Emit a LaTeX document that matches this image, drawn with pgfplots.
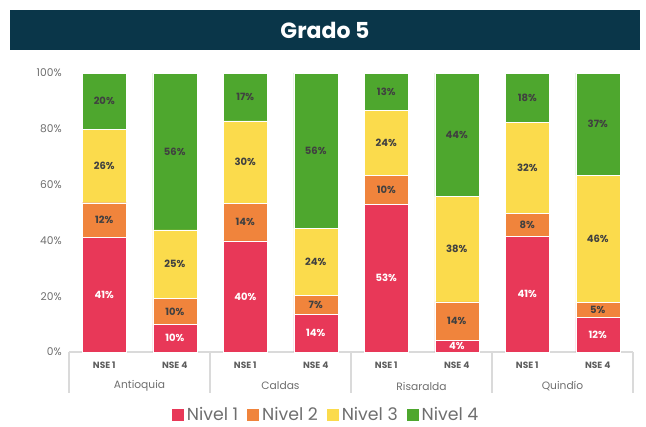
\documentclass[border=0pt]{standalone}
\usepackage{fontspec}
\setmainfont{Poppins}
\usepackage{pgfplots}
\usepackage{pgfplotstable}
\pgfplotsset{compat=1.18}
\definecolor{titlebg}{HTML}{0A3649}
\definecolor{n1}{HTML}{E83858}
\definecolor{n2}{HTML}{F0843C}
\definecolor{n3}{HTML}{FBDB4C}
\definecolor{n4}{HTML}{4EA72E}
\definecolor{ticktxt}{HTML}{6E6E6E}
\definecolor{darktxt}{HTML}{404040}
\definecolor{sepline}{HTML}{DADADA}

% segment heights (percent) per bar
\pgfplotstableread{
x  n1    n2    n3    n4
0  41.2  12.3  26.4  20.1
1  9.9   9.3   24.6  56.2
2  39.8  13.5  29.5  17.2
3  13.6  6.8   23.9  55.7
4  52.9  10.3  23.5  13.3
5  4.3   13.7  37.7  44.3
6  41.5  8.3   32.4  17.8
7  12.4  5.3   45.7  36.6
}\datatable

% label positions (segment middles) and label text
\pgfplotstableread{
x  y      lab
0  20.6   41
1  4.95   10
2  19.9   40
3  6.8    14
4  26.45  53
5  2.15   4
6  20.75  41
7  6.2    12
}\labone
\pgfplotstableread{
x  y      lab
0  47.35  12
0  66.7   26
0  89.95  20
1  14.55  10
1  31.5   25
1  71.9   56
2  46.55  14
2  68.05  30
2  91.4   17
3  17.0   7
3  32.35  24
3  72.15  56
4  58.05  10
4  74.95  24
4  93.35  13
5  11.15  14
5  36.85  38
5  77.85  44
6  45.65  8
6  66.0   32
6  91.1   18
7  15.05  5
7  40.55  46
7  81.7   37
}\labrest

\begin{document}
\begin{tikzpicture}[x=1pt,y=1pt]
\path[use as bounding box] (0,0) rectangle (484.5,319.5);
% title bar
\fill[titlebg] (7.5,282) rectangle (480,312);
\node[text=white,font=\fontsize{16.5}{18}\selectfont\bfseries] at (243.75,297) {Grado 5};

\begin{axis}[
  at={(51.75pt,55.5pt)}, anchor=south west,
  scale only axis, width=423pt, height=209.25pt,
  ybar stacked, bar width=33pt,
  xmin=-0.5, xmax=7.5, ymin=0, ymax=100,
  xtick={0,...,7},
  xticklabels={NSE 1,NSE 4,NSE 1,NSE 4,NSE 1,NSE 4,NSE 1,NSE 4},
  ytick={0,20,...,100},
  yticklabel={\pgfmathprintnumber{\tick}\%},
  /pgf/number format/assume math mode=true,
  axis x line*=bottom, axis y line*=left,
  x axis line style={draw=sepline, line width=0.8pt},
  y axis line style={draw=none},
  major tick length=0pt,
  x tick label style={font=\fontsize{6.8}{8}\selectfont\bfseries, text=darktxt!85, yshift=-4pt},
  y tick label style={font=\fontsize{8}{10}\selectfont, text=ticktxt, xshift=-2pt},
  clip=false,
  legend columns=4,
  legend style={at={(0.4557,-0.2258)}, anchor=center, draw=none, fill=none,
    font=\fontsize{13}{15}\selectfont, text=ticktxt,
    /tikz/every even column/.append style={column sep=4pt}},
  legend image code/.code={\fill[#1] (0pt,-4.8pt) rectangle (9.6pt,4.8pt);},
]
\addplot[fill=n1, draw=white, line width=0.3pt] table[x=x,y=n1] {\datatable};
\addplot[fill=n2, draw=white, line width=0.3pt] table[x=x,y=n2] {\datatable};
\addplot[fill=n3, draw=white, line width=0.3pt] table[x=x,y=n3] {\datatable};
\addplot[fill=n4, draw=white, line width=0.3pt] table[x=x,y=n4] {\datatable};
\legend{Nivel 1,Nivel 2,Nivel 3,Nivel 4}
\pgfplotsinvokeforeach{-0.5,1.5,3.5,5.5,7.5}{
  \draw[sepline, line width=0.8pt] (axis cs:#1,0) -- ([yshift=-30.5pt]axis cs:#1,0);
}
\node[font=\fontsize{8}{10}\selectfont, text=ticktxt] at ([yshift=-25.5pt]axis cs:0.5,0) {Antioquia};
\node[font=\fontsize{8}{10}\selectfont, text=ticktxt] at ([yshift=-25.5pt]axis cs:2.5,0) {Caldas};
\node[font=\fontsize{8}{10}\selectfont, text=ticktxt] at ([yshift=-25.5pt]axis cs:4.5,0) {Risaralda};
\node[font=\fontsize{8}{10}\selectfont, text=ticktxt] at ([yshift=-25.5pt]axis cs:6.5,0) {Quindío};
\end{axis}

\begin{axis}[
  at={(51.75pt,55.5pt)}, anchor=south west,
  scale only axis, width=423pt, height=209.25pt,
  xmin=-0.5, xmax=7.5, ymin=0, ymax=100,
  hide axis, clip=false,
]
\addplot[draw=none, mark=none, nodes near coords={\pgfplotspointmeta\%},
  point meta=explicit symbolic,
  every node near coord/.style={anchor=center, text=white, font=\fontsize{7.5}{9}\selectfont\bfseries}]
  table[x=x,y=y,meta=lab] {\labone};
\addplot[draw=none, mark=none, nodes near coords={\pgfplotspointmeta\%},
  point meta=explicit symbolic,
  every node near coord/.style={anchor=center, text=darktxt, font=\fontsize{7.5}{9}\selectfont\bfseries}]
  table[x=x,y=y,meta=lab] {\labrest};
\end{axis}
\end{tikzpicture}
\end{document}
